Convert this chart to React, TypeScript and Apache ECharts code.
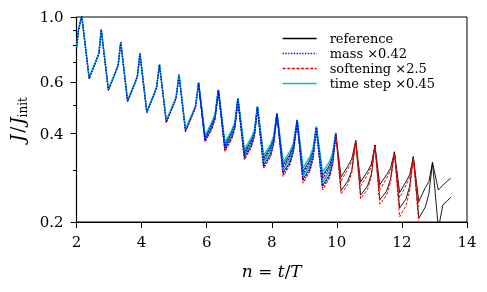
import React, { useEffect, useRef } from 'react';
import * as echarts from 'echarts';

// n = t/T sample positions (peaks, troughs, shoulders)
const nGrid = [
  2.0, 2.06, 2.16,
  2.39, 2.6, 2.69, 2.76,
  2.98, 3.19, 3.28, 3.36,
  3.57, 3.78, 3.87, 3.95,
  4.16, 4.37, 4.46, 4.55,
  4.76, 4.97, 5.06, 5.15,
  5.35, 5.56, 5.66, 5.75,
  5.95, 6.16, 6.26, 6.36,
  6.56, 6.77, 6.87, 6.96,
  7.16, 7.37, 7.47, 7.56,
  7.75, 7.96, 8.06, 8.16,
  8.35, 8.56, 8.67, 8.78,
  8.96, 9.17, 9.27, 9.37,
  9.56, 9.77, 9.87, 9.97,
  10.13, 10.33, 10.46, 10.58,
  10.73, 10.94, 11.06, 11.17,
  11.32, 11.53, 11.65, 11.77,
  11.93, 12.13, 12.24, 12.35,
  12.52, 12.72, 12.83, 12.94,
  13.12, 13.26, 13.38, 13.5,
];
// index in nGrid where the lower branches begin (n = 5.75)
const lowerStart = 26;

const referenceUpper = [
  0.78, 0.9, 1.01,
  0.618, 0.708, 0.752, 0.905,
  0.564, 0.645, 0.685, 0.82,
  0.517, 0.59, 0.627, 0.75,
  0.474, 0.54, 0.575, 0.686,
  0.44, 0.5, 0.53, 0.634,
  0.41, 0.465, 0.495, 0.594,
  0.388, 0.432, 0.462, 0.561,
  0.366, 0.405, 0.432, 0.524,
  0.346, 0.38, 0.405, 0.491,
  0.33, 0.36, 0.385, 0.466,
  0.313, 0.34, 0.365, 0.442,
  0.298, 0.325, 0.35, 0.419,
  0.288, 0.312, 0.335, 0.399,
  0.285, 0.309, 0.328, 0.379,
  0.274, 0.297, 0.315, 0.366,
  0.268, 0.29, 0.305, 0.347,
  0.252, 0.275, 0.29, 0.334,
  0.235, 0.262, 0.275, 0.319,
  0.257, 0.267, 0.275, 0.282,
];
const referenceLower = [
  0.594,
  0.381, 0.42, 0.455, 0.561,
  0.356, 0.39, 0.425, 0.524,
  0.334, 0.365, 0.4, 0.491,
  0.313, 0.34, 0.375, 0.466,
  0.295, 0.32, 0.355, 0.442,
  0.28, 0.305, 0.335, 0.419,
  0.266, 0.29, 0.32, 0.399,
  0.256, 0.275, 0.3, 0.379,
  0.247, 0.265, 0.29, 0.366,
  0.238, 0.255, 0.28, 0.347,
  0.223, 0.24, 0.265, 0.334,
  0.206, 0.225, 0.25, 0.319,
  0.19, 0.229, 0.235, 0.243,
];

const massUpper = [
  0.78, 0.9, 1.01,
  0.617, 0.707, 0.751, 0.905,
  0.563, 0.644, 0.684, 0.82,
  0.516, 0.589, 0.626, 0.75,
  0.473, 0.539, 0.574, 0.687,
  0.438, 0.499, 0.529, 0.635,
  0.408, 0.464, 0.494, 0.595,
  0.385, 0.43, 0.46, 0.562,
  0.362, 0.402, 0.43, 0.525,
  0.342, 0.377, 0.403, 0.492,
  0.325, 0.357, 0.382, 0.467,
  0.308, 0.337, 0.362, 0.443,
  0.293, 0.321, 0.346, 0.42,
  0.282, 0.308, 0.331, 0.4,
];
const massLower = [
  0.595,
  0.378, 0.418, 0.452, 0.562,
  0.352, 0.387, 0.421, 0.525,
  0.33, 0.362, 0.396, 0.492,
  0.309, 0.337, 0.371, 0.467,
  0.291, 0.317, 0.351, 0.443,
  0.276, 0.301, 0.331, 0.42,
  0.262, 0.286, 0.316, 0.4,
];

const softeningUpper = [
  0.78, 0.9, 1.01,
  0.615, 0.705, 0.75, 0.903,
  0.561, 0.642, 0.682, 0.818,
  0.514, 0.587, 0.624, 0.748,
  0.471, 0.537, 0.572, 0.684,
  0.436, 0.497, 0.527, 0.632,
  0.405, 0.461, 0.491, 0.592,
  0.382, 0.427, 0.457, 0.559,
  0.359, 0.399, 0.427, 0.522,
  0.338, 0.374, 0.4, 0.489,
  0.321, 0.354, 0.379, 0.464,
  0.304, 0.334, 0.359, 0.44,
  0.289, 0.318, 0.343, 0.417,
  0.279, 0.305, 0.328, 0.397,
  0.276, 0.302, 0.322, 0.377,
  0.265, 0.29, 0.309, 0.363,
  0.257, 0.282, 0.299, 0.343,
  0.242, 0.267, 0.284, 0.33,
  0.225,
];
const softeningLower = [
  0.592,
  0.374, 0.414, 0.448, 0.559,
  0.347, 0.383, 0.417, 0.522,
  0.325, 0.358, 0.392, 0.489,
  0.304, 0.333, 0.367, 0.464,
  0.286, 0.313, 0.347, 0.44,
  0.271, 0.297, 0.327, 0.417,
  0.257, 0.282, 0.312, 0.397,
  0.249, 0.268, 0.294, 0.377,
  0.24, 0.258, 0.284, 0.363,
  0.23, 0.247, 0.273, 0.343,
  0.208, 0.228, 0.256, 0.33,
  0.198,
];

const timeStepUpper = [
  0.79, 0.905, 1.01,
  0.62, 0.71, 0.754, 0.908,
  0.566, 0.647, 0.687, 0.823,
  0.519, 0.592, 0.629, 0.753,
  0.477, 0.543, 0.578, 0.69,
  0.444, 0.504, 0.534, 0.638,
  0.414, 0.47, 0.5, 0.598,
  0.393, 0.438, 0.467, 0.565,
  0.372, 0.411, 0.438, 0.528,
  0.352, 0.387, 0.412, 0.495,
  0.337, 0.367, 0.392, 0.47,
  0.32, 0.348, 0.372, 0.446,
  0.306, 0.333, 0.357, 0.423,
  0.296, 0.32, 0.343, 0.403,
];
const timeStepLower = [
  0.598,
  0.386, 0.426, 0.46, 0.565,
  0.362, 0.396, 0.43, 0.528,
  0.341, 0.372, 0.406, 0.495,
  0.32, 0.348, 0.381, 0.47,
  0.302, 0.328, 0.362, 0.446,
  0.287, 0.312, 0.342, 0.423,
  0.273, 0.298, 0.327, 0.403,
];

const seriesNames = ['reference', 'mass \u00d70.42', 'softening \u00d72.5', 'time step \u00d70.45'];
const yMajorTicks = [0.2, 0.4, 0.6, 1.0];
const yMinorTicks = [0.3, 0.5, 0.7, 0.8, 0.9];
const xTicks = { min: 2, max: 14, interval: 2 };

const FONT = 'DejaVu Serif';

export default function App() {
  const ref = useRef<HTMLDivElement>(null);
  useEffect(() => {
    const chart = echarts.init(ref.current!, null, { renderer: 'svg' });
    const L = (v: number) => Math.log10(v);
    const pts = (vals: number[], start: number) => vals.map((v, i) => [nGrid[start + i], L(v)]);
    const mk = (name: string, data: number[][], color: string, width: number, type: any) => ({
      type: 'line',
      name,
      data,
      symbol: 'none',
      showSymbol: false,
      clip: true,
      lineStyle: { color, width, type },
      itemStyle: { color },
      emphasis: { disabled: true },
    });
    const dashRed = [3, 1.6];
    const dotBlue = [1.3, 1.5];
    chart.setOption({
      animation: false,
      grid: {
        left: 76.5,
        right: 20,
        top: 17,
        bottom: 70,
        show: true,
        borderColor: '#000',
        borderWidth: 1,
        containLabel: false,
        outerBoundsMode: 'none',
      },
      legend: {
        data: seriesNames,
        orient: 'vertical',
        left: 277,
        top: 26,
        itemWidth: 34,
        itemHeight: 15,
        itemGap: 0,
        itemStyle: { opacity: 0, borderWidth: 0 },
        lineStyle: { width: 1.3 },
        textStyle: { fontFamily: FONT, fontSize: 13, color: '#000', lineHeight: 15, padding: [0, 0, 0, 8] },
      },
      xAxis: {
        type: 'value',
        min: xTicks.min,
        max: xTicks.max,
        interval: xTicks.interval,
        axisLine: { show: true, onZero: false, lineStyle: { color: '#000', width: 1.2 } },
        axisTick: { show: true, inside: false, length: 6, lineStyle: { color: '#000', width: 1 } },
        axisLabel: { color: '#000', fontFamily: FONT, fontSize: 15, margin: 12 },
        splitLine: { show: false },
        name: '{i|n} = {i|t}/{i|T}',
        nameLocation: 'middle',
        nameGap: 40,
        nameTextStyle: {
          fontFamily: FONT,
          fontSize: 17,
          color: '#000',
          rich: { i: { fontFamily: FONT, fontSize: 17, fontStyle: 'italic', color: '#000' } },
        },
      },
      yAxis: [
        {
          type: 'value',
          min: L(0.2),
          max: 0,
          axisLine: { show: true, onZero: false, lineStyle: { color: '#000', width: 1.2 } },
          axisTick: {
            show: true,
            inside: false,
            length: 6,
            customValues: yMajorTicks.map(L),
            lineStyle: { color: '#000', width: 1 },
          },
          axisLabel: {
            customValues: yMajorTicks.map(L),
            formatter: (v: number) => Math.pow(10, v).toFixed(1),
            color: '#000',
            fontFamily: FONT,
            fontSize: 15,
            margin: 13,
          },
          splitLine: { show: false },
          name: '{a|J}{r|/}{a|J}{b|init}',
          nameLocation: 'middle',
          nameGap: 44,
          nameTextStyle: {
            fontFamily: FONT,
            fontSize: 17,
            color: '#000',
            rich: {
              a: { fontFamily: FONT, fontSize: 18, fontStyle: 'italic', color: '#000', lineHeight: 22, verticalAlign: 'middle' },
              r: { fontFamily: FONT, fontSize: 18, color: '#000', lineHeight: 22, verticalAlign: 'middle', padding: [0, 2, 0, 2] },
              b: { fontFamily: FONT, fontSize: 12, color: '#000', lineHeight: 22, verticalAlign: 'bottom' },
            },
          },
        },
        {
          type: 'value',
          position: 'left',
          min: L(0.2),
          max: 0,
          axisLine: { show: false },
          axisTick: {
            show: true,
            inside: false,
            length: 3.5,
            customValues: yMinorTicks.map(L),
            lineStyle: { color: '#000', width: 1 },
          },
          axisLabel: { show: false },
          splitLine: { show: false },
        },
      ],
      series: [
        mk(seriesNames[0], pts(referenceUpper, 0), '#000000', 0.9, 'solid'),
        mk(seriesNames[0], pts(referenceLower, lowerStart), '#000000', 0.9, 'solid'),
        mk(seriesNames[2], pts(softeningUpper, 0), '#ff0000', 1, dashRed),
        mk(seriesNames[2], pts(softeningLower, lowerStart), '#ff0000', 1, dashRed),
        mk(seriesNames[3], pts(timeStepUpper, 0), '#00bfbf', 1.5, 'solid'),
        mk(seriesNames[3], pts(timeStepLower, lowerStart), '#00bfbf', 1.5, 'solid'),
        mk(seriesNames[1], pts(massUpper, 0), '#0000ff', 1.5, dotBlue),
        mk(seriesNames[1], pts(massLower, lowerStart), '#0000ff', 1.5, dotBlue),
      ],
    });
    return () => chart.dispose();
  }, []);
  return <div ref={ref} style={{ position: 'fixed', left: 0, top: 0, width: 487, height: 292 }} />;
}
